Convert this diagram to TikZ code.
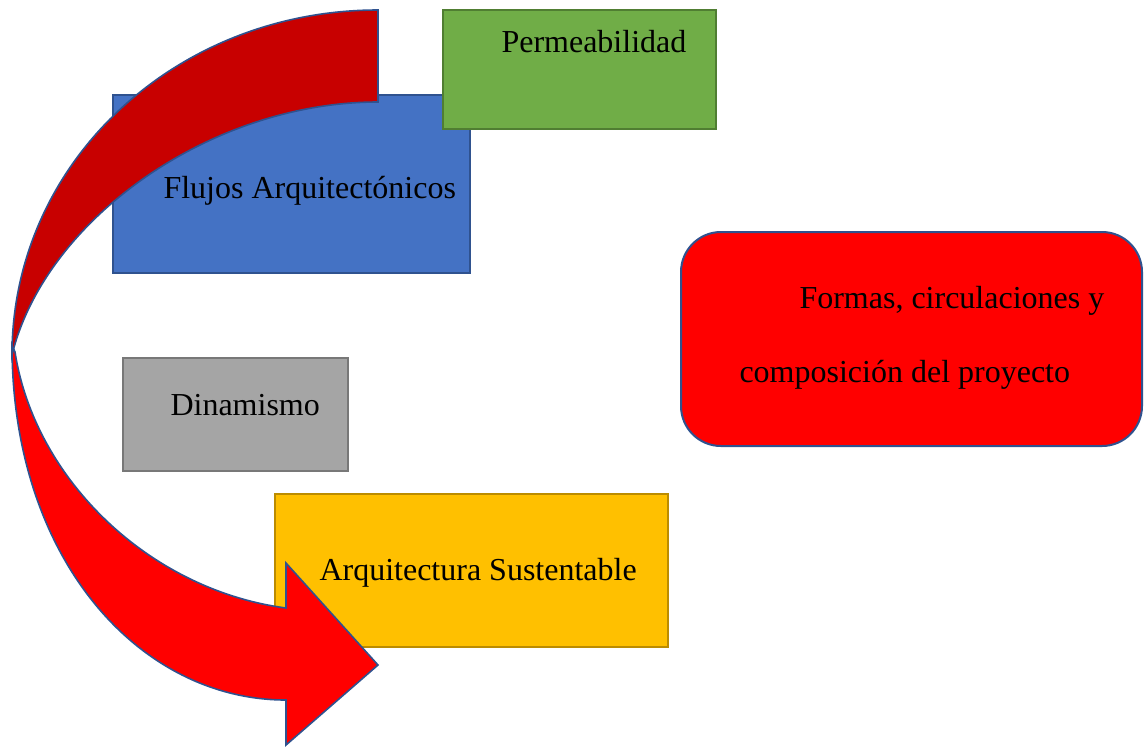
\documentclass[tikz,border=0pt]{standalone}
\usepackage{fontspec}
\setmainfont{Liberation Serif}

\definecolor{flujoBlue}{RGB}{68,114,196}
\definecolor{edgeBlue}{RGB}{47,82,143}
\definecolor{permGreen}{RGB}{112,173,71}
\definecolor{permEdge}{RGB}{80,126,50}
\definecolor{dinGray}{RGB}{165,165,165}
\definecolor{dinEdge}{RGB}{120,120,120}
\definecolor{sustYellow}{RGB}{255,192,0}
\definecolor{sustEdge}{RGB}{188,140,0}
\definecolor{arrowRed}{RGB}{255,0,0}
\definecolor{arrowDark}{RGB}{200,0,0}

\tikzset{every picture/.style={line width=0.75pt}}
\tikzset{
  panel/.style={line width=1.5pt},
  lbl/.style={anchor=base west, inner sep=0.75pt, font=\fontsize{24}{28}\selectfont}
}

\begin{document}
\begin{tikzpicture}[x=0.75pt,y=0.75pt,yscale=-1,xscale=1]
\useasboundingbox (0,0) rectangle (1144,747);

%Shape: Rectangle [Flujos]
\draw [panel, draw=edgeBlue, fill=flujoBlue] (113,95) rectangle (470,273) ;
%Shape: Rectangle [Permeabilidad]
\draw [panel, draw=permEdge, fill=permGreen] (443,10) rectangle (716,129) ;
%Shape: Rectangle [Dinamismo]
\draw [panel, draw=dinEdge, fill=dinGray] (123,358) rectangle (348,471) ;
%Shape: Rectangle [Sustentable]
\draw [panel, draw=sustEdge, fill=sustYellow] (275,494) rectangle (668,647) ;
%Rounded Rect [Formas]
\draw [panel, draw=edgeBlue, fill=arrowRed, rounded corners=30pt] (681,232) rectangle (1142,446) ;

%Curved Arrow (lower part, head)
\draw [line width=1.2pt, draw=edgeBlue, fill=arrowRed] (12,345) .. controls (12,560) and (140,700) .. (286,700) -- (286,745) -- (378,665) -- (286,563) -- (286,608) .. controls (150,590) and (35,480) .. (15,352) -- cycle ;
%Curved Arrow (upper part, back)
\draw [line width=1.2pt, draw=edgeBlue, fill=arrowDark] (378,10) .. controls (176,10) and (12,162) .. (12,355) .. controls (45,220) and (210,102) .. (378,102) -- cycle ;

% Text Node
\draw (500,52) node [lbl] (perm) {Permeabilidad};
% Text Node
\draw (162,198) node [lbl] (flujos) {Flujos Arquitectónicos};
% Text Node
\draw (169,415) node [lbl] (dinamismo) {Dinamismo};
% Text Node
\draw (318,580) node [lbl] (sustentable) {Arquitectura Sustentable};
% Text Node
\draw (798,308) node [lbl] (formasA) {Formas, circulaciones y};
% Text Node
\draw (738,382) node [lbl] (formasB) {composición del proyecto};

\end{tikzpicture}
\end{document}
